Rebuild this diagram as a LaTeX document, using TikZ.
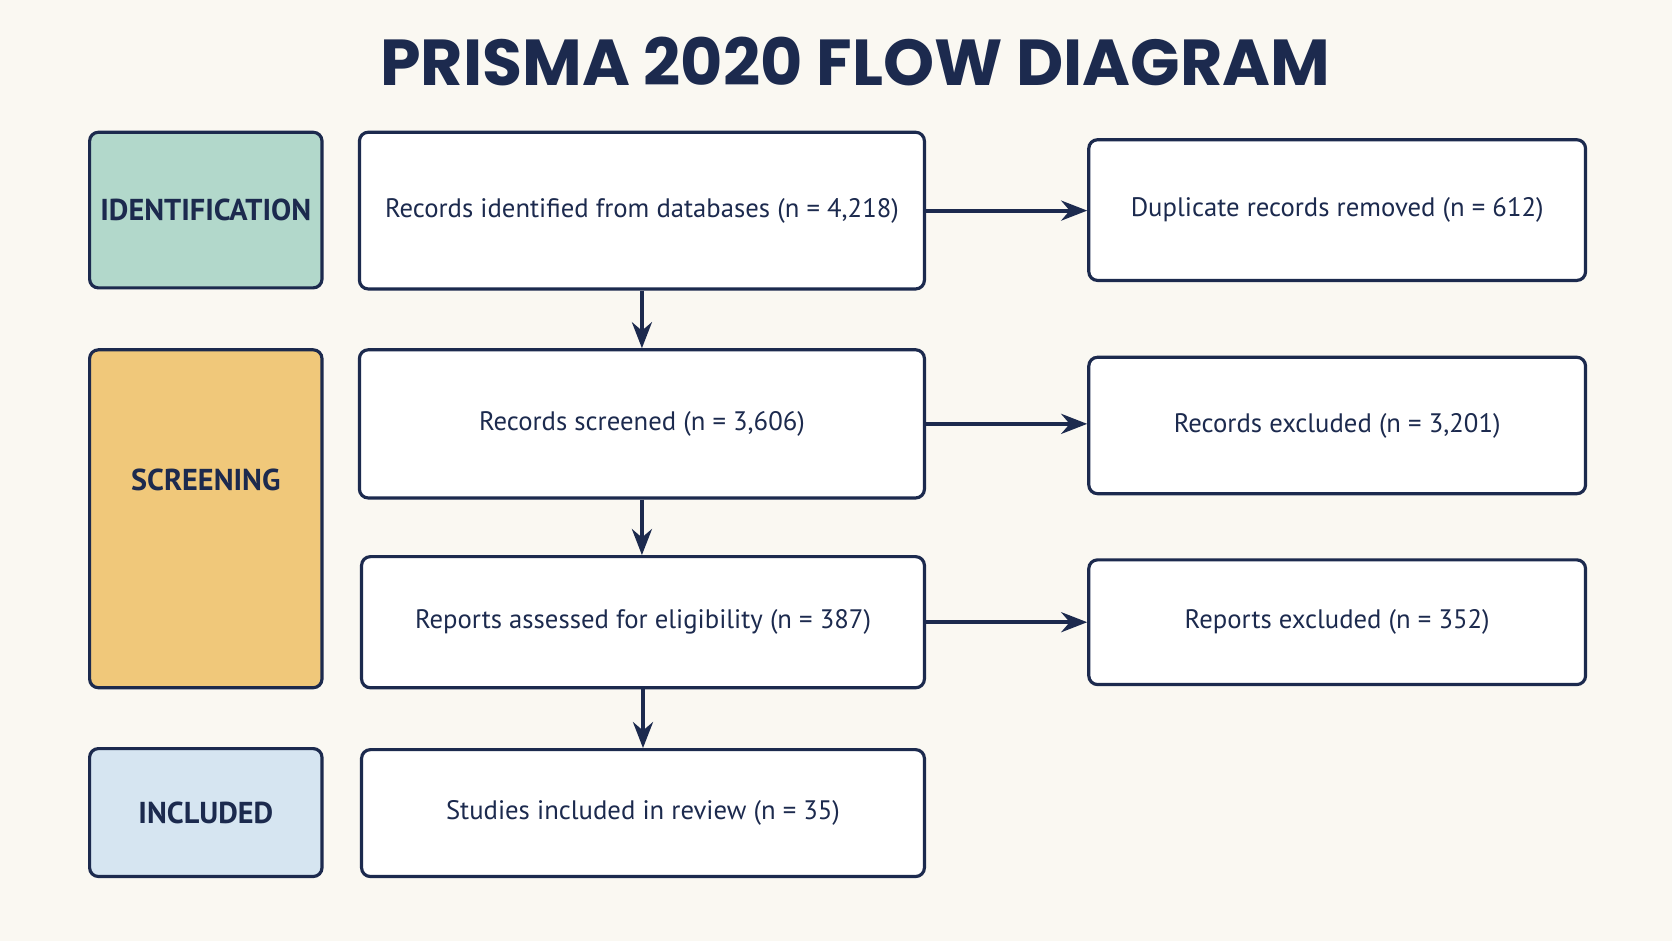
\documentclass[tikz,border=0pt]{standalone}
\usepackage{fontspec}
\setmainfont{PT Sans}
\newfontfamily\titlefont{Poppins}
\usetikzlibrary{arrows.meta,positioning,calc}
\definecolor{navy}{HTML}{1C2A4E}
\definecolor{paper}{HTML}{FAF8F2}
\definecolor{tealbox}{HTML}{B2D8CB}
\definecolor{yellowbox}{HTML}{F0C87A}
\definecolor{bluebox}{HTML}{D6E5F1}

\begin{document}
\begin{tikzpicture}[x=0.010663cm, y=-0.010663cm, > = {Stealth[length=2.6mm,width=2mm]}, line width=0.8pt]
                       \tikzstyle{stage}=[rectangle, rounded corners=2.5pt, draw=navy, line width=0.9pt, text=navy, font=\bfseries\fontsize{8.6}{10}\selectfont, inner sep=0pt, minimum width=218*0.10663mm]
                       \tikzstyle{flowbox}=[rectangle, rounded corners=2.5pt, draw=navy, line width=0.9pt, fill=white, text=navy, inner sep=0pt, font=\fontsize{7.6}{9}\selectfont]
                       \tikzstyle{flow}=[->, navy, line width=1.1pt]

                        % Fundo
                        \fill[paper] (0,0) rectangle (1568,882);
                        \node[text=navy, font=\titlefont\bfseries\fontsize{18.5}{22}\selectfont] (title) at (802,58) {PRISMA 2020 FLOW DIAGRAM};

                        % Fases
                        \node[stage, fill=tealbox, minimum height=146*0.10663mm] (ident) at (193,197) {IDENTIFICATION};
                        \node[stage, fill=yellowbox, minimum height=317*0.10663mm,
                              label={[text=navy, font=\bfseries\fontsize{8.6}{10}\selectfont, yshift=36*0.10663mm]center:SCREENING}] (screen) at (193,486.5) {};
                        \node[stage, fill=bluebox, minimum height=120*0.10663mm] (incl) at (193,762) {INCLUDED};

                        % Caixas
                        \node[flowbox, minimum width=530*0.10663mm, minimum height=147*0.10663mm] (records) at (602,197.5) {Records identified from databases (n = 4,218)};
                        \node[flowbox, minimum width=530*0.10663mm, minimum height=139*0.10663mm] (screened) at (602,397.5) {Records screened (n = 3,606)};
                        \node[flowbox, minimum width=528*0.10663mm, minimum height=123*0.10663mm] (assessed) at (603,583.5) {Reports assessed for eligibility (n = 387)};
                        \node[flowbox, minimum width=528*0.10663mm, minimum height=119*0.10663mm] (studies) at (603,762.5) {Studies included in review (n = 35)};
                        \node[flowbox, minimum width=466*0.10663mm, minimum height=132*0.10663mm] (dupl) at (1254,197) {Duplicate records removed (n = 612)};
                        \node[flowbox, minimum width=466*0.10663mm, minimum height=128*0.10663mm] (recexcl) at (1254,399) {Records excluded (n = 3,201)};
                        \node[flowbox, minimum width=466*0.10663mm, minimum height=117*0.10663mm] (repexcl) at (1254,583.5) {Reports excluded (n = 352)};

                        % Setas
                        \draw[flow] (records.east) -- (records.east -| dupl.west);
                        \draw[flow] (screened.east) -- (screened.east -| recexcl.west);
                        \draw[flow] (assessed.east) -- (assessed.east -| repexcl.west);
                        \draw[flow] (records.south) -- (records.south |- screened.north);
                        \draw[flow] (screened.south) -- (screened.south |- assessed.north);
                        \draw[flow] (assessed.south) -- (assessed.south |- studies.north);
                  \end{tikzpicture}
\end{document}
